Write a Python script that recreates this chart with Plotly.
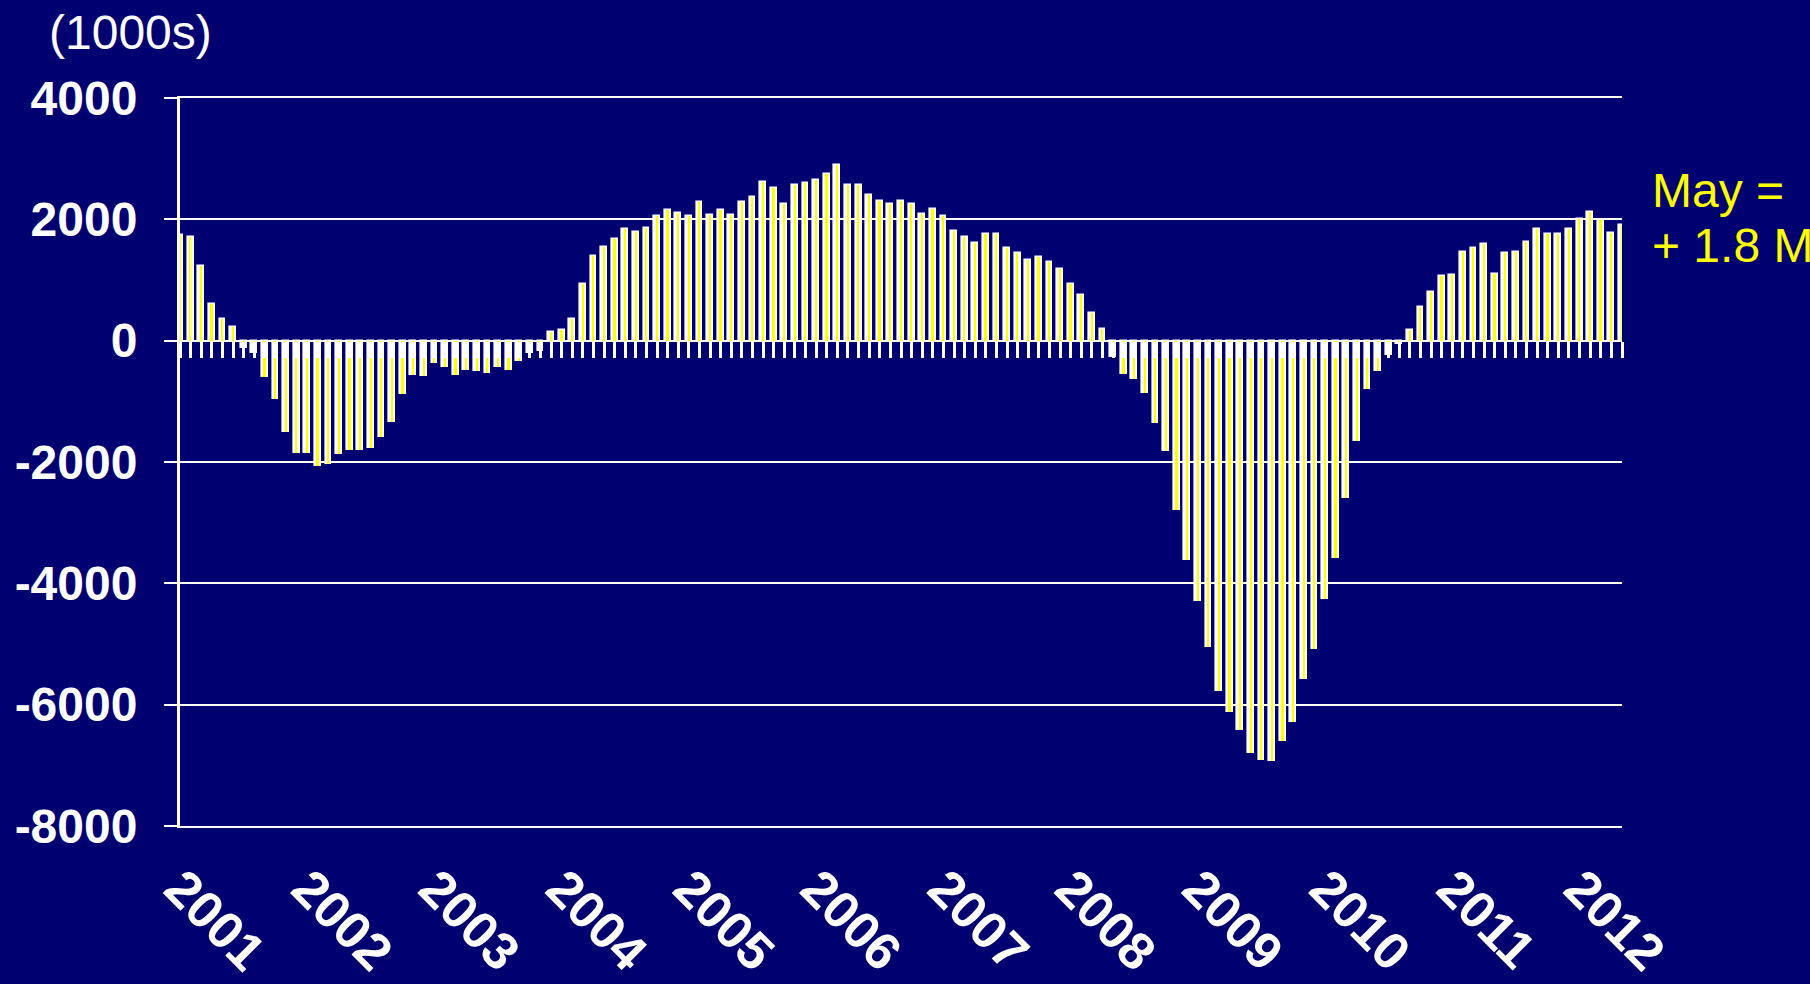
import plotly.graph_objects as go

# ---- data (thousands, year-over-year change, monthly Jan 2001 - May 2012) ----
years = [str(y) for y in range(2001, 2013)]
month_names = ["Jan", "Feb", "Mar", "Apr", "May", "Jun",
               "Jul", "Aug", "Sep", "Oct", "Nov", "Dec"]

v2001 = [1735, 1708, 1223, 612, 353, 231, -121, -209, -606, -964, -1504, -1846]
v2002 = [-1846, -2066, -2039, -1862, -1802, -1802, -1763, -1592, -1339, -882, -567, -590]
v2003 = [-375, -441, -567, -479, -507, -540, -441, -479, -331, -209, -165, 149]
v2004 = [171, 353, 931, 1394, 1543, 1669, 1835, 1791, 1857, 2050, 2154, 2110]
v2005 = [2050, 2281, 2072, 2154, 2072, 2281, 2369, 2617, 2518, 2259, 2573, 2595]
v2006 = [2645, 2744, 2893, 2573, 2573, 2408, 2303, 2259, 2303, 2259, 2094, 2176]
v2007 = [2050, 1813, 1708, 1603, 1752, 1752, 1521, 1438, 1328, 1372, 1289, 1179]
v2008 = [926, 755, 463, 187, -265, -542, -625, -855, -1364, -1825, -2795, -3611]
v2009 = [-4296, -5052, -5770, -6115, -6411, -6789, -6904, -6921, -6603, -6285, -5578, -5079]
v2010 = [-4252, -3578, -2586, -1660, -795, -504, -240, -50, 176, 560, 808, 1066]
v2011 = [1082, 1467, 1533, 1588, 1104, 1440, 1467, 1632, 1841, 1758, 1758, 1841]
v2012 = [2000, 2126, 1989, 1780, 1901]

values = v2001 + v2002 + v2003 + v2004 + v2005 + v2006 + v2007 + v2008 + v2009 + v2010 + v2011 + v2012
months = [f"{m} {y}" for y in years for m in month_names][:len(values)]

y_ticks = [4000, 2000, 0, -2000, -4000, -6000, -8000]
y_ticktext = [str(v) for v in y_ticks]
y_range = [-8000, 4000]
year_tickvals = [f"Jan {y}" for y in years]

unit_label = "(1000s)"
note_line1 = "May ="
note_line2 = "+ 1.8 M"

# ---- styling ----
BG = "#000070"
FONT = "Arial, Liberation Sans, sans-serif"
n = len(values)
zero_pos = (0 - y_range[0]) / (y_range[1] - y_range[0])

fig = go.Figure()

# invisible helper trace so that the month-tick axis (x2) is drawn
fig.add_trace(go.Scatter(
    x=list(range(n)), y=values, xaxis="x2", yaxis="y",
    mode="markers", marker=dict(opacity=0, size=1),
    hoverinfo="skip", showlegend=False,
))
fig.add_trace(go.Bar(
    x=months, y=values, width=0.55,
    marker=dict(color="white", line=dict(color="white", width=1.6)),
    hoverinfo="x+y", showlegend=False,
))
fig.add_trace(go.Bar(
    x=months, y=values, width=0.16,
    marker=dict(color="#FFFF00", line=dict(width=0)),
    hoverinfo="skip", showlegend=False,
))

fig.update_layout(
    width=1810, height=984,
    paper_bgcolor=BG, plot_bgcolor=BG,
    margin=dict(l=180, r=188, t=98, b=158, autoexpand=False),
    barmode="overlay",
    bargap=0,
    font=dict(family=FONT, color="white"),
    xaxis=dict(
        type="category", range=[0, n - 1], automargin=False,
        tickvals=year_tickvals, ticktext=years,
        tickangle=45, ticks="", showgrid=False, zeroline=False,
        showline=True, mirror=True, linecolor="white", linewidth=2,
        tickfont=dict(family=FONT, size=52, color="white", weight="bold"),
        ticklabelstandoff=9,
    ),
    xaxis2=dict(
        type="linear", range=[0, n - 1], overlaying="x", anchor="free",
        position=zero_pos, side="bottom", automargin=False,
        tickvals=list(range(n)), ticks="outside", ticklen=16, tickwidth=3,
        tickcolor="white", showticklabels=False, showgrid=False,
        zeroline=False, showline=False, layer="above traces",
    ),
    yaxis=dict(
        range=y_range, tickvals=y_ticks, ticktext=y_ticktext, automargin=False,
        showgrid=True, gridcolor="white", gridwidth=2,
        zeroline=True, zerolinecolor="white", zerolinewidth=2,
        showline=True, linecolor="white", linewidth=3,
        ticks="outside", ticklen=13, tickwidth=2, tickcolor="white",
        tickfont=dict(family=FONT, size=48, color="white", weight="bold"),
        ticklabelstandoff=17,
    ),
)

fig.add_annotation(
    text=unit_label, xref="paper", yref="paper",
    x=-0.034, y=1.09, xanchor="center", yanchor="middle",
    showarrow=False, font=dict(family=FONT, size=48, color="white"),
)
fig.add_annotation(
    text=note_line1, xref="paper", yref="paper",
    x=1.0195, y=0.8723, xanchor="left", yanchor="middle",
    showarrow=False, font=dict(family=FONT, size=48, color="#FFFF00"),
)
fig.add_annotation(
    text=note_line2, xref="paper", yref="paper",
    x=1.0195, y=0.797, xanchor="left", yanchor="middle",
    showarrow=False, font=dict(family=FONT, size=48, color="#FFFF00"),
)

fig.write_html(
    "out.html",
    config={"displayModeBar": False},
    post_script="document.body.style.margin='0';document.body.style.overflow='hidden';",
)
